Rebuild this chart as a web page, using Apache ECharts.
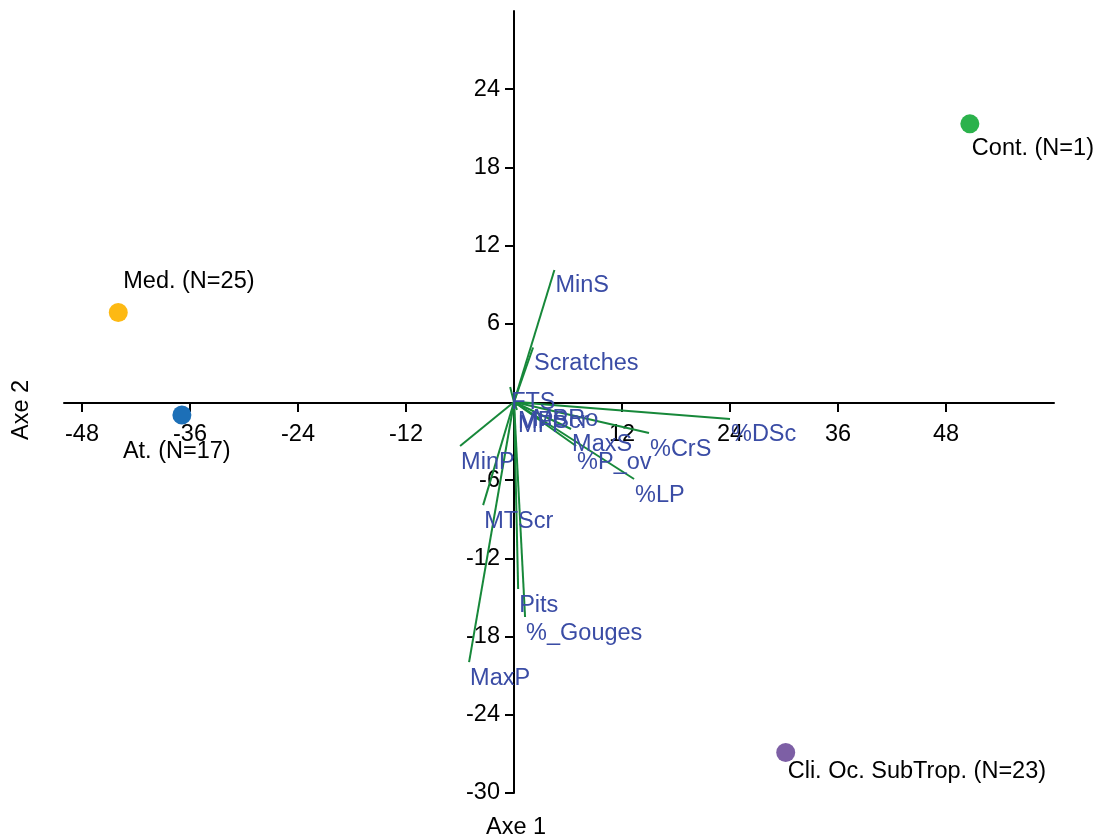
<!DOCTYPE html>
<html>
<head>
<meta charset="utf-8">
<script src="https://cdn.jsdelivr.net/npm/echarts@6/dist/echarts.min.js"></script>
<style>
html,body{margin:0;padding:0;background:#fff;}
#chart{width:1100px;height:835px;}
</style>
</head>
<body>
<div id="chart"></div>
<script>
// ---- data ----
const groupNames = ['Cont. (N=1)', 'Med. (N=25)', 'At. (N=17)', 'Cli. Oc. SubTrop. (N=23)'];
const groupX = [50.65, -43.97, -36.9, 30.19];
const groupY = [21.34, 6.86, -1.0, -26.89];

const varNames = ['MinS', 'Scratches', 'FTS', 'MPRo', 'MPScr', 'MFP', 'MaxS', '%P_ov', '%CrS', '%DSc', '%LP', 'MinP', 'MTScr', 'Pits', '%_Gouges', 'MaxP'];
const varX = [4.49, 2.12, -0.43, 2.0, 0.34, 0.34, 6.34, 6.9, 15.0, 24.0, 13.34, -5.99, -3.43, 0.46, 1.23, -4.99];
const varY = [10.13, 4.18, 1.15, -0.08, -0.3, -0.6, -2.07, -3.38, -2.38, -1.3, -5.91, -3.38, -7.91, -14.35, -16.5, -19.96];

const xTicks = [-48, -36, -24, -12, 12, 24, 36, 48];
const yTicks = [-30, -24, -18, -12, -6, 6, 12, 18, 24];

// ---- styles ----
const groupColors = ['#2bb24c', '#fdb913', '#1c6fb7', '#7d5fa5'];
const groupLabelOffsets = [[2, 13], [5, -43], [-59, 24], [2, 7]];
const FONT = 'Liberation Sans, Arial, Helvetica, sans-serif';
const FS = 23.5;
const X_MIN = -50, X_MAX = 60, Y_MIN = -30, Y_MAX = 30;

const chart = echarts.init(document.getElementById('chart'), null, {renderer: 'canvas'});

const axisCommon = {
  type: 'value',
  axisLine: {onZero: false, lineStyle: {color: '#000', width: 2}},
  splitLine: {show: false},
  axisTick: {show: true, inside: false, length: 9, lineStyle: {color: '#000', width: 2}},
};

const option = {
  animation: false,
  backgroundColor: '#fff',
  grid: {left: 64, right: 46, top: 11, bottom: 42, containLabel: false},
  xAxis: Object.assign({}, axisCommon, {
    min: X_MIN, max: X_MAX, position: 'bottom', offset: 0,
    axisTick: Object.assign({}, axisCommon.axisTick, {customValues: xTicks}),
    axisLabel: {customValues: xTicks, color: '#000', fontSize: FS, fontFamily: FONT, margin: 20}
  }),
  yAxis: Object.assign({}, axisCommon, {
    min: Y_MIN, max: Y_MAX, position: 'left', offset: 0,
    axisTick: Object.assign({}, axisCommon.axisTick, {customValues: yTicks}),
    axisLabel: {customValues: yTicks, color: '#000', fontSize: FS, fontFamily: FONT, margin: 14}
  }),
  graphic: [
    {type: 'text', left: 486, top: 816, style: {text: 'Axe 1', fontSize: FS, fontFamily: FONT, fill: '#000'}},
    {type: 'text', x: 10, y: 440, rotation: Math.PI / 2, style: {text: 'Axe 2', fontSize: FS, fontFamily: FONT, fill: '#000', align: 'left', verticalAlign: 'top'}}
  ],
  series: [
    {
      type: 'lines',
      coordinateSystem: 'cartesian2d',
      z: 3,
      silent: true,
      lineStyle: {color: '#17883a', width: 2, opacity: 1},
      data: varNames.map((n, i) => ({coords: [[0, 0], [varX[i], varY[i]]]}))
    },
    {
      type: 'scatter',
      z: 4,
      symbolSize: 0.01,
      silent: true,
      itemStyle: {color: 'rgba(0,0,0,0)', opacity: 1},
      label: {
        show: true, position: 'inside', align: 'left', verticalAlign: 'top', offset: [1, 4],
        color: '#3a4ca5', opacity: 1, fontSize: FS, fontFamily: FONT,
        formatter: p => varNames[p.dataIndex]
      },
      data: varNames.map((n, i) => [varX[i], varY[i]])
    },
    {
      type: 'scatter',
      z: 6,
      symbolSize: 19,
      silent: true,
      itemStyle: {opacity: 1},
      data: groupNames.map((n, i) => ({
        value: [groupX[i], groupY[i]],
        itemStyle: {color: groupColors[i], opacity: 1},
        label: {
          show: true, position: 'inside', align: 'left', verticalAlign: 'top', opacity: 1,
          offset: groupLabelOffsets[i], color: '#000', fontSize: FS, fontFamily: FONT,
          formatter: () => n
        }
      }))
    }
  ]
};
chart.setOption(option);

// move both axes so they cross at the origin (labels follow the lines)
const origin = chart.convertToPixel({gridIndex: 0}, [0, 0]);
const corner = chart.convertToPixel({gridIndex: 0}, [X_MIN, Y_MIN]);
chart.setOption({
  xAxis: {offset: -(corner[1] - origin[1])},
  yAxis: {offset: -(origin[0] - corner[0])}
});
</script>
</body>
</html>
